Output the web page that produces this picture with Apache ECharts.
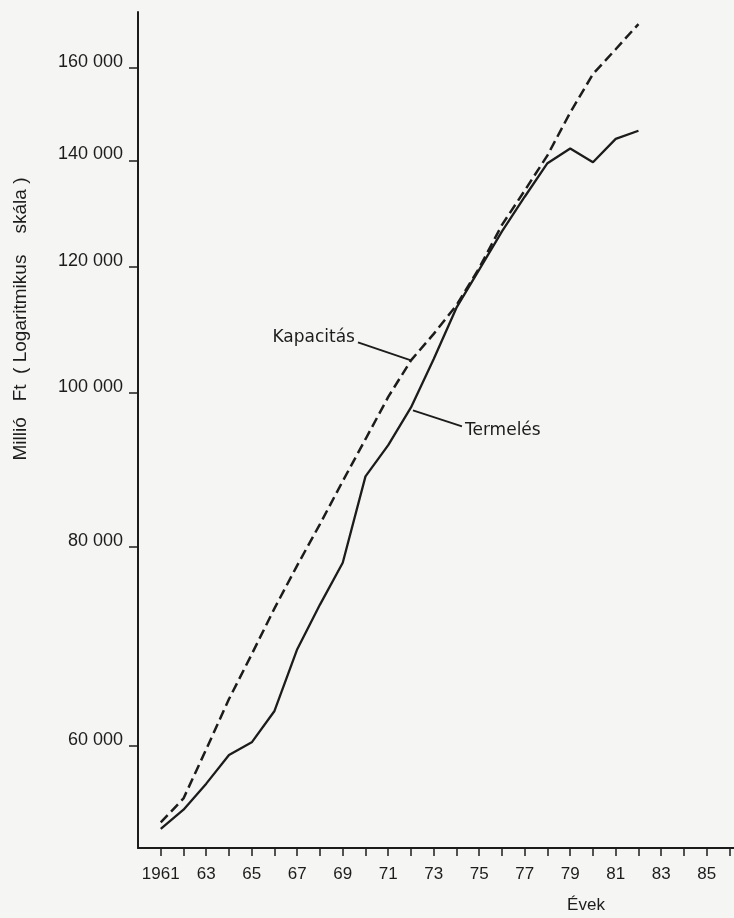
<!DOCTYPE html>
<html>
<head>
<meta charset="utf-8">
<script src="https://cdn.jsdelivr.net/npm/echarts@6/dist/echarts.min.js"></script>
<style>
  html, body { margin: 0; padding: 0; background: #f5f5f3; }
  #chart { width: 734px; height: 918px; }
</style>
</head>
<body>
<div id="chart"></div>
<script>
// Yearly series, million Ft (log scale)
const years = [1961, 1962, 1963, 1964, 1965, 1966, 1967, 1968, 1969, 1970, 1971,
               1972, 1973, 1974, 1975, 1976, 1977, 1978, 1979, 1980, 1981, 1982];
const termeles = [53200, 54700, 56800, 59200, 60300, 63100, 69000, 73600, 78200, 88600, 92700,
                  97900, 105000, 113100, 119500, 126300, 132800, 139400, 142400, 139600, 144400, 146100];
const kapacitas = [53700, 55600, 59700, 64200, 68500, 73200, 77900, 82700, 88000, 93500, 99400,
                   104800, 108900, 113500, 119800, 127500, 134000, 141000, 150000, 158600, 164400, 170500];
const yTickValues = [60000, 80000, 100000, 120000, 140000, 160000];
const xLabelYears = [1961, 1963, 1965, 1967, 1969, 1971, 1973, 1975, 1977, 1979, 1981, 1983, 1985];
const xTickYears = [];
for (let y = 1961; y <= 1986; y++) xTickYears.push(y);

const ink = '#1c1c1c';
const chart = echarts.init(document.getElementById('chart'), null, { renderer: 'canvas' });

const pairs = (vals) => years.map((y, i) => [y, vals[i]]);

chart.setOption({
  backgroundColor: '#f5f5f3',
  animation: false,
  grid: { left: 138, right: 0, top: 12, bottom: 70, containLabel: false },
  xAxis: {
    type: 'value',
    min: 1960,
    max: 1986.2,
    axisLine: { show: true, lineStyle: { color: ink, width: 2 } },
    axisTick: { show: true, length: 8, inside: false, customValues: xTickYears,
                lineStyle: { color: ink, width: 1.5 } },
    axisLabel: {
      customValues: xLabelYears,
      margin: 18,
      fontFamily: 'Liberation Sans',
      fontSize: 17,
      color: ink,
      formatter: (v) => (v === 1961 ? '1961' : String(v % 100))
    },
    splitLine: { show: false }
  },
  yAxis: {
    type: 'log',
    logBase: 10,
    min: 51750,
    max: 173500,
    axisLine: { show: true, lineStyle: { color: ink, width: 2 } },
    axisTick: { show: true, length: 9, inside: false, customValues: yTickValues,
                lineStyle: { color: ink, width: 1.5 } },
    axisLabel: {
      customValues: yTickValues,
      margin: 15,
      fontFamily: 'Liberation Sans',
      fontSize: 18,
      lineHeight: 12,
      verticalAlign: 'bottom',
      color: ink,
      formatter: (v) => Math.round(v / 1000) + ' 000'
    },
    splitLine: { show: false },
    minorTick: { show: false }
  },
  series: [
    {
      name: 'Kapacitás',
      type: 'line',
      data: pairs(kapacitas),
      showSymbol: false,
      symbol: 'none',
      lineStyle: { color: ink, width: 2.5, type: [10, 5] }
    },
    {
      name: 'Termelés',
      type: 'line',
      data: pairs(termeles),
      showSymbol: false,
      symbol: 'none',
      lineStyle: { color: ink, width: 2.3, type: 'solid' }
    }
  ]
});

// Callout labels anchored to the 1972 points of each series
const i72 = years.indexOf(1972);
const pK = chart.convertToPixel({ seriesIndex: 0 }, [1972, kapacitas[i72]]);
const pT = chart.convertToPixel({ seriesIndex: 1 }, [1972, termeles[i72]]);

chart.setOption({
  graphic: [
    {
      type: 'text', x: 21, y: 319, rotation: Math.PI / 2,
      style: { text: 'Millió   Ft  ( Logaritmikus    skála )', fill: ink,
               font: '19px "Liberation Sans"', textAlign: 'center', textVerticalAlign: 'middle' }
    },
    {
      type: 'text', x: 586, y: 905,
      style: { text: 'Évek', fill: ink, font: '17px "Liberation Sans"',
               textAlign: 'center', textVerticalAlign: 'middle' }
    },
    {
      type: 'text', x: pK[0] - 56, y: pK[1] - 23,
      style: { text: 'Kapacitás', fill: ink, font: '17px "DejaVu Sans"',
               textAlign: 'right', textVerticalAlign: 'middle' }
    },
    {
      type: 'line',
      shape: { x1: pK[0] - 53, y1: pK[1] - 18, x2: pK[0], y2: pK[1] },
      style: { stroke: ink, lineWidth: 1.8 }
    },
    {
      type: 'text', x: pT[0] + 54, y: pT[1] + 23,
      style: { text: 'Termelés', fill: ink, font: '17px "DejaVu Sans"',
               textAlign: 'left', textVerticalAlign: 'middle' }
    },
    {
      type: 'line',
      shape: { x1: pT[0] + 2, y1: pT[1] + 3, x2: pT[0] + 51, y2: pT[1] + 19 },
      style: { stroke: ink, lineWidth: 1.8 }
    }
  ]
});
</script>
</body>
</html>
